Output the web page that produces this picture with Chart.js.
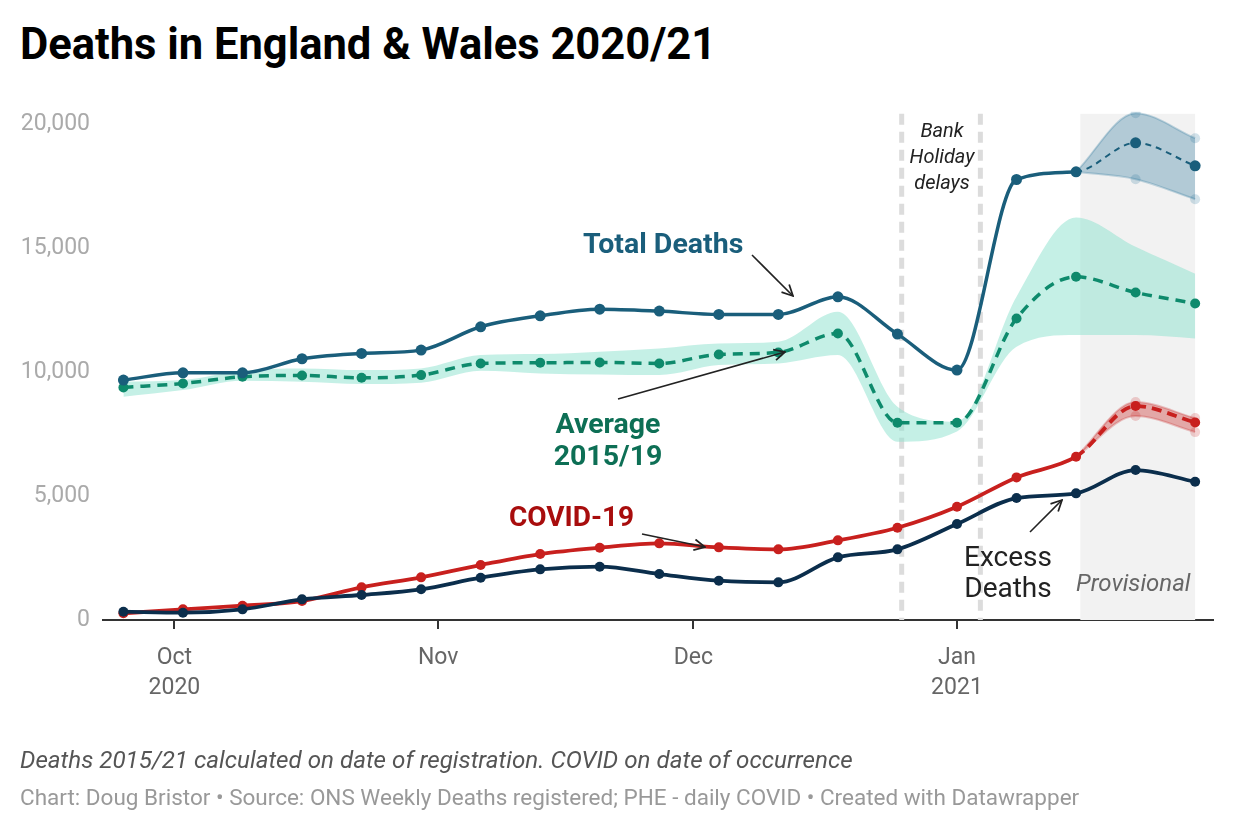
<!DOCTYPE html>
<html>
<head>
<meta charset="utf-8">
<title>Deaths in England & Wales 2020/21</title>
<script src="https://cdn.jsdelivr.net/npm/chart.js@4.4.1/dist/chart.umd.min.js"></script>
<style>
  body {
    margin: 0;
    width: 1240px;
    height: 840px;
    background: #fff;
    font-family: Roboto, "Noto Sans", sans-serif;
    position: relative;
    overflow: hidden;
  }
  .txt { position: absolute; white-space: nowrap; }
  .center { text-align: center; }
  #chart-wrap { position: absolute; left: 0; top: 85px; width: 1240px; height: 635px; }
  #arrows { position: absolute; left: 0; top: 0; }
</style>
</head>
<body>
<div class="txt" style="left:20px;top:20px;font-size:43.5px;font-weight:700;line-height:50px;color:#000;">Deaths in England &amp; Wales 2020/21</div>

<div id="chart-wrap"><canvas id="deathsChart" width="1240" height="635"></canvas></div>

<svg id="arrows" width="1240" height="840">
  <defs>
    <marker id="ah" viewBox="0 0 12 12" refX="11" refY="6" markerWidth="13" markerHeight="13"
            markerUnits="userSpaceOnUse" orient="auto">
      <path d="M1,1 L11,6 L1,11" fill="none" stroke="#222" stroke-width="1.6"/>
    </marker>
  </defs>
  <line x1="752" y1="255" x2="793" y2="296" stroke="#222" stroke-width="1.6" marker-end="url(#ah)"/>
  <line x1="618" y1="399" x2="785" y2="352" stroke="#222" stroke-width="1.6" marker-end="url(#ah)"/>
  <line x1="642" y1="534" x2="705" y2="547" stroke="#222" stroke-width="1.6" marker-end="url(#ah)"/>
  <line x1="1030" y1="532" x2="1062" y2="500" stroke="#222" stroke-width="1.6" marker-end="url(#ah)"/>
</svg>

<!-- annotations -->
<div class="txt center" style="left:887px;top:117px;width:110px;font-size:20px;font-style:italic;line-height:26px;color:#222;">Bank<br>Holiday<br>delays</div>
<div class="txt" style="left:583px;top:228px;font-size:28.5px;font-weight:700;line-height:32px;color:#1a5e7b;">Total Deaths</div>
<div class="txt center" style="left:538px;top:408px;width:140px;font-size:28.5px;font-weight:700;line-height:32px;color:#0d6f55;">Average<br>2015/19</div>
<div class="txt" style="left:509px;top:501px;font-size:28px;font-weight:700;line-height:32px;color:#a80d0d;">COVID-19</div>
<div class="txt center" style="left:938px;top:541px;width:140px;font-size:28px;line-height:31px;color:#222;">Excess<br>Deaths</div>
<div class="txt" style="left:1076px;top:569px;font-size:24px;font-style:italic;line-height:28px;color:#666;">Provisional</div>

<div class="txt" style="left:20px;top:745px;font-size:24.2px;font-style:italic;line-height:30px;color:#555;">Deaths 2015/21 calculated on date of registration. COVID on date of occurrence</div>
<div class="txt" style="left:20px;top:783px;font-size:22.5px;line-height:28px;color:#999;">Chart: Doug Bristor • Source: ONS Weekly Deaths registered; PHE - daily COVID • Created with Datawrapper</div>

<script>
// Week ending dates (ONS weeks end on Friday)
const weekEnding = [
  "2020-09-25", "2020-10-02", "2020-10-09", "2020-10-16", "2020-10-23",
  "2020-10-30", "2020-11-06", "2020-11-13", "2020-11-20", "2020-11-27",
  "2020-12-04", "2020-12-11", "2020-12-18", "2020-12-25", "2021-01-01",
  "2021-01-08", "2021-01-15", "2021-01-22", "2021-01-29",
];

const totalDeaths = [
  9677, 9973, 9973, 10538, 10753, 10887, 11828, 12272, 12540, 12460,
  12325, 12325, 13038, 11532, 10080, 17769, 18078, 19247, 18320,
];
const average1519 = [
  9382, 9543, 9812, 9866, 9772, 9879, 10349, 10376, 10390, 10349,
  10712, 10793, 11559, 7957, 7957, 12164, 13844, 13212, 12769,
];
const averageMax = [
  9610, 9677, 10054, 10148, 10080, 10148, 10685, 10726, 10820, 10955,
  11156, 11223, 12432, 8602, 8000, 13038, 16237, 15054, 13972,
];
const averageMin = [
  9005, 9274, 9651, 9610, 9516, 9570, 10054, 9947, 9906, 9879,
  10282, 10349, 10685, 7190, 7600, 11021, 11492, 11492, 11358,
];
const covidDeaths = [
  269, 430, 578, 766, 1317, 1720, 2218, 2661, 2917, 3091,
  2930, 2849, 3212, 3723, 4570, 5753, 6586, 8629, 7970,
];
const excessDeaths = [
  335, 296, 430, 833, 1008, 1237, 1707, 2043, 2151, 1855,
  1586, 1519, 2527, 2849, 3871, 4919, 5108, 6048, 5578,
];

// provisional ranges start from the last complete week (index 16 = 15 Jan)
const provisionalFrom = 16;
const totalProvHigh = [18078, 20440, 19435];
const totalProvLow = [18078, 17782, 16975];
const covidProvHigh = [6586, 8790, 8145];
const covidProvLow = [6586, 8226, 7580];

const monthTicks = ["2020-10-01", "2020-11-01", "2020-12-01", "2021-01-01"];
const monthLabels = [["Oct", "2020"], "Nov", "Dec", ["Jan", "2021"]];
const yTicks = [0, 5000, 10000, 15000, 20000];

const provisionalShade = ["2021-01-15T12:00:00Z", "2021-01-29T00:00:00Z"];
const bankHolidayLines = ["2020-12-25T12:00:00Z", "2021-01-03T18:00:00Z"];

// x is days since 1 Oct 2020
const origin = Date.parse("2020-10-01T00:00:00Z");
function dayOf(d) {
  if (d.length === 10) d += "T00:00:00Z";
  return (Date.parse(d) - origin) / 86400000;
}
const xDays = weekEnding.map(dayOf);

function pts(values, from) {
  const start = from || 0;
  return values.map((v, i) => ({ x: xDays[start + i], y: v }));
}

const colTotal = "#1a5e7b";
const colAvg = "#0e8a6c";
const colCovid = "#c8201e";
const colExcess = "#0b2e4c";

const backdrop = {
  id: "backdrop",
  beforeDatasetsDraw(chart) {
    const { ctx, chartArea, scales } = chart;
    const x = scales.x;
    ctx.save();
    // provisional shading
    const x0 = x.getPixelForValue(dayOf(provisionalShade[0]));
    const x1 = x.getPixelForValue(dayOf(provisionalShade[1]));
    ctx.fillStyle = "#f2f2f2";
    ctx.fillRect(x0, chartArea.top + 2, x1 - x0, chartArea.bottom - chartArea.top - 2);
    // bank holiday markers
    ctx.strokeStyle = "#dcdcdc";
    ctx.lineWidth = 5;
    ctx.setLineDash([11, 7]);
    bankHolidayLines.forEach((d) => {
      const px = x.getPixelForValue(dayOf(d));
      ctx.beginPath();
      ctx.moveTo(px, chartArea.top + 2);
      ctx.lineTo(px, chartArea.bottom);
      ctx.stroke();
    });
    ctx.restore();
  },
};

function provDash(from, dash, width) {
  return {
    borderDash: (c) => (c.p0DataIndex >= from ? dash : undefined),
    borderWidth: (c) => (c.p0DataIndex >= from ? width : undefined),
  };
}

Chart.defaults.font.family = "Roboto, 'Noto Sans', sans-serif";

const ctx = document.getElementById("deathsChart").getContext("2d");
new Chart(ctx, {
  type: "line",
  data: {
    datasets: [
      {
        label: "Average max",
        data: pts(averageMax),
        borderWidth: 0,
        borderColor: "rgba(0,0,0,0)",
        pointRadius: 0,
        fill: false,
        cubicInterpolationMode: "monotone",
        order: 10,
      },
      {
        label: "Average min",
        data: pts(averageMin),
        borderWidth: 0,
        borderColor: "rgba(0,0,0,0)",
        pointRadius: 0,
        fill: "-1",
        backgroundColor: "rgba(140, 225, 205, 0.5)",
        cubicInterpolationMode: "monotone",
        order: 10,
      },
      {
        label: "Total high",
        data: pts(totalProvHigh, provisionalFrom),
        borderWidth: 2,
        borderColor: "rgba(30, 110, 150, 0.25)",
        pointRadius: [0, 5, 5],
        pointBackgroundColor: "rgba(30, 110, 150, 0.2)",
        pointBorderWidth: 0,
        fill: false,
        cubicInterpolationMode: "monotone",
        order: 9,
      },
      {
        label: "Total low",
        data: pts(totalProvLow, provisionalFrom),
        borderWidth: 2,
        borderColor: "rgba(30, 110, 150, 0.25)",
        pointRadius: [0, 5, 5],
        pointBackgroundColor: "rgba(30, 110, 150, 0.2)",
        pointBorderWidth: 0,
        fill: "-1",
        backgroundColor: "rgba(30, 110, 150, 0.3)",
        cubicInterpolationMode: "monotone",
        order: 9,
      },
      {
        label: "COVID high",
        data: pts(covidProvHigh, provisionalFrom),
        borderWidth: 2,
        borderColor: "rgba(200, 32, 30, 0.25)",
        pointRadius: [0, 5, 5],
        pointBackgroundColor: "rgba(200, 32, 30, 0.2)",
        pointBorderWidth: 0,
        fill: false,
        cubicInterpolationMode: "monotone",
        order: 9,
      },
      {
        label: "COVID low",
        data: pts(covidProvLow, provisionalFrom),
        borderWidth: 2,
        borderColor: "rgba(200, 32, 30, 0.25)",
        pointRadius: [0, 5, 5],
        pointBackgroundColor: "rgba(200, 32, 30, 0.2)",
        pointBorderWidth: 0,
        fill: "-1",
        backgroundColor: "rgba(200, 32, 30, 0.35)",
        cubicInterpolationMode: "monotone",
        order: 9,
      },
      {
        label: "Average 2015/19",
        data: pts(average1519),
        borderColor: colAvg,
        backgroundColor: colAvg,
        borderWidth: 3.5,
        borderDash: [10, 7],
        pointRadius: 5,
        pointBorderWidth: 0,
        fill: false,
        cubicInterpolationMode: "monotone",
        order: 5,
      },
      {
        label: "Total Deaths",
        data: pts(totalDeaths),
        borderColor: colTotal,
        backgroundColor: colTotal,
        borderWidth: 3.5,
        pointRadius: 5.5,
        pointBorderWidth: 0,
        fill: false,
        cubicInterpolationMode: "monotone",
        segment: provDash(provisionalFrom, [6, 5], 2),
        order: 4,
      },
      {
        label: "COVID-19",
        data: pts(covidDeaths),
        borderColor: colCovid,
        backgroundColor: colCovid,
        borderWidth: 3.8,
        pointRadius: 5,
        pointBorderWidth: 0,
        fill: false,
        cubicInterpolationMode: "monotone",
        segment: provDash(provisionalFrom, [10, 6], 3.8),
        order: 3,
      },
      {
        label: "Excess Deaths",
        data: pts(excessDeaths),
        borderColor: colExcess,
        backgroundColor: colExcess,
        borderWidth: 3.8,
        pointRadius: 5,
        pointBorderWidth: 0,
        fill: false,
        cubicInterpolationMode: "monotone",
        order: 2,
      },
    ],
  },
  options: {
    responsive: false,
    animation: false,
    events: [],
    layout: { padding: { top: 0, right: 27, left: 0, bottom: 0 } },
    plugins: {
      legend: { display: false },
      tooltip: { enabled: false },
    },
    scales: {
      x: {
        type: "linear",
        min: -8.4,
        max: 122.1,
        afterBuildTicks: (s) => {
          s.ticks = monthTicks.map((d) => ({ value: dayOf(d) }));
        },
        afterFit: (s) => {
          s.height = 100;
        },
        grid: {
          display: true,
          drawOnChartArea: false,
          drawTicks: true,
          tickLength: 9,
          color: "#333",
          lineWidth: 2,
        },
        border: { display: true, color: "#333", width: 2 },
        ticks: {
          callback: (v, i) => monthLabels[i],
          color: "#666",
          font: { size: 23, lineHeight: 1.27 },
          padding: 15,
          maxRotation: 0,
          autoSkip: false,
        },
      },
      y: {
        min: 0,
        max: 20500,
        afterBuildTicks: (s) => {
          s.ticks = yTicks.map((v) => ({ value: v }));
        },
        afterFit: (s) => {
          s.width = 103;
        },
        grid: { display: false, drawTicks: false },
        border: { display: false },
        ticks: {
          callback: (v) => v.toLocaleString("en-GB"),
          color: "#aaa",
          font: { size: 23 },
          padding: 13,
        },
      },
    },
  },
  plugins: [backdrop],
});
</script>
</body>
</html>
